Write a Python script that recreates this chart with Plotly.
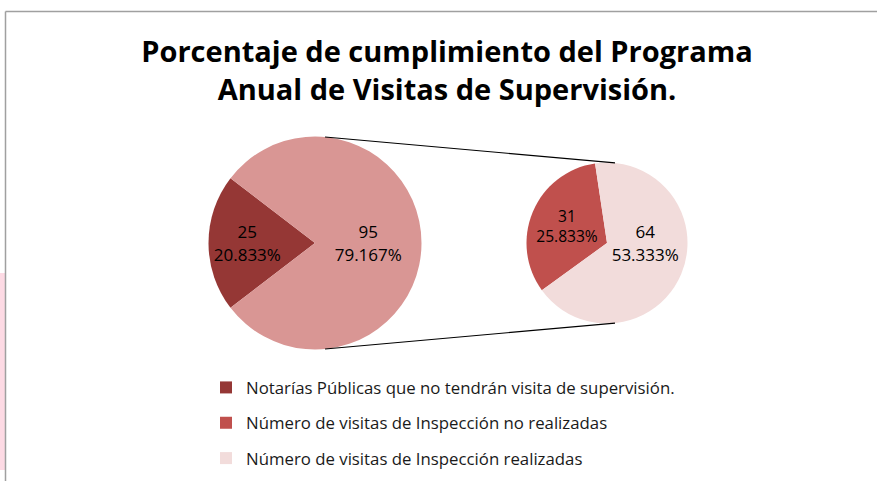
import math
import plotly.graph_objects as go

# ---- data ----
title_lines = ["Porcentaje de cumplimiento del Programa", "Anual de Visitas de Supervisión."]
main_labels = ["Notarías Públicas que no tendrán visita de supervisión.", "Visitas programadas"]
main_values = [25, 95]
sub_labels = ["Número de visitas de Inspección no realizadas", "Número de visitas de Inspección realizadas"]
sub_values = [31, 64]
legend_labels = [main_labels[0], sub_labels[0], sub_labels[1]]

# ---- style ----
c_dark = "#953735"
c_main_other = "#D99694"
c_sub_a = "#C0504D"
c_sub_b = "#F2DCDB"
legend_colors = [c_dark, c_sub_a, c_sub_b]

W, H = 877, 481
total = sum(main_values)

def txt(v):
    return f"{v}<br>{v / total * 100:.3f}%"

# pie geometry (pixels)
L_cx, L_cy, L_r = 315, 243, 106.5
R_cx, R_cy, R_r = 607, 243, 80.5

def dom(cx, cy, r):
    return dict(x=[(cx - r) / W, (cx + r) / W], y=[(H - cy - r) / H, (H - cy + r) / H])

fig = go.Figure()
fig.add_trace(go.Pie(
    labels=main_labels, values=main_values, sort=False, direction="counterclockwise",
    rotation=-127.5, domain=dom(L_cx, L_cy, L_r),
    marker=dict(colors=[c_dark, c_main_other], line=dict(width=0)),
    text=[txt(v) for v in main_values], textinfo="text", textposition="inside",
    insidetextorientation="horizontal",
    textfont=dict(family="Open Sans", size=17, color="black"),
    showlegend=False, hoverinfo="label+value",
))
fig.add_trace(go.Pie(
    labels=sub_labels, values=sub_values, sort=False, direction="counterclockwise",
    rotation=-126, domain=dom(R_cx, R_cy, R_r),
    marker=dict(colors=[c_sub_a, c_sub_b], line=dict(width=0)),
    text=[txt(v) for v in sub_values], textinfo="text", textposition="inside",
    insidetextorientation="horizontal",
    textfont=dict(family="Open Sans", size=17, color="black"),
    showlegend=False, hoverinfo="label+value",
))

# legend via dummy traces
for i, (lab, col) in enumerate(zip(legend_labels, legend_colors)):
    fig.add_trace(go.Scatter(
        x=[None], y=[None], mode="markers", name=lab, legendgroup=f"g{i}",
        marker=dict(symbol="square", size=11, color=col),
    ))

# connector lines between pies
def pt(cx, cy, r, ang):
    a = math.radians(ang)
    return ((cx + r * math.cos(a)) / W, (H - (cy - r * math.sin(a))) / H)

shapes = []
for sgn in (1, -1):
    x0, y0 = pt(L_cx, L_cy, L_r, sgn * 84.6)
    x1, y1 = pt(R_cx, R_cy, R_r, sgn * 84.3)
    shapes.append(dict(type="line", xref="paper", yref="paper", x0=x0, y0=y0, x1=x1, y1=y1,
                       line=dict(color="black", width=1.2)))
# frame
shapes.append(dict(type="rect", xref="paper", yref="paper", x0=0, x1=5 / W, y0=(H - 470) / H, y1=(H - 273) / H,
                   fillcolor="#FDDAE4", line=dict(width=0), layer="below"))
shapes.append(dict(type="line", xref="paper", yref="paper", x0=5.5 / W, x1=1, y0=(H - 11.5) / H, y1=(H - 11.5) / H,
                   line=dict(color="#A0A0A0", width=1.5)))
shapes.append(dict(type="line", xref="paper", yref="paper", x0=5.5 / W, x1=5.5 / W, y0=0, y1=(H - 11.5) / H,
                   line=dict(color="#A0A0A0", width=1.5)))

fig.update_layout(
    width=W, height=H, margin=dict(l=0, r=0, t=0, b=0),
    paper_bgcolor="white", plot_bgcolor="white",
    title=dict(text="<b>" + "<br>".join(title_lines) + "</b>", x=447 / W, xanchor="center",
               y=(H - 62) / H, yanchor="top",
               font=dict(family="Open Sans", size=29, color="black")),
    xaxis=dict(visible=False), yaxis=dict(visible=False),
    legend=dict(x=206 / W, xanchor="left", y=(H - 370) / H, yanchor="top",
                font=dict(family="Open Sans", size=16.8, color="#1a1a1a"),
                traceorder="grouped", tracegroupgap=10.5, itemsizing="constant", itemwidth=30,
                bgcolor="rgba(0,0,0,0)"),
    shapes=shapes,
)

fig.write_html("out.html")
